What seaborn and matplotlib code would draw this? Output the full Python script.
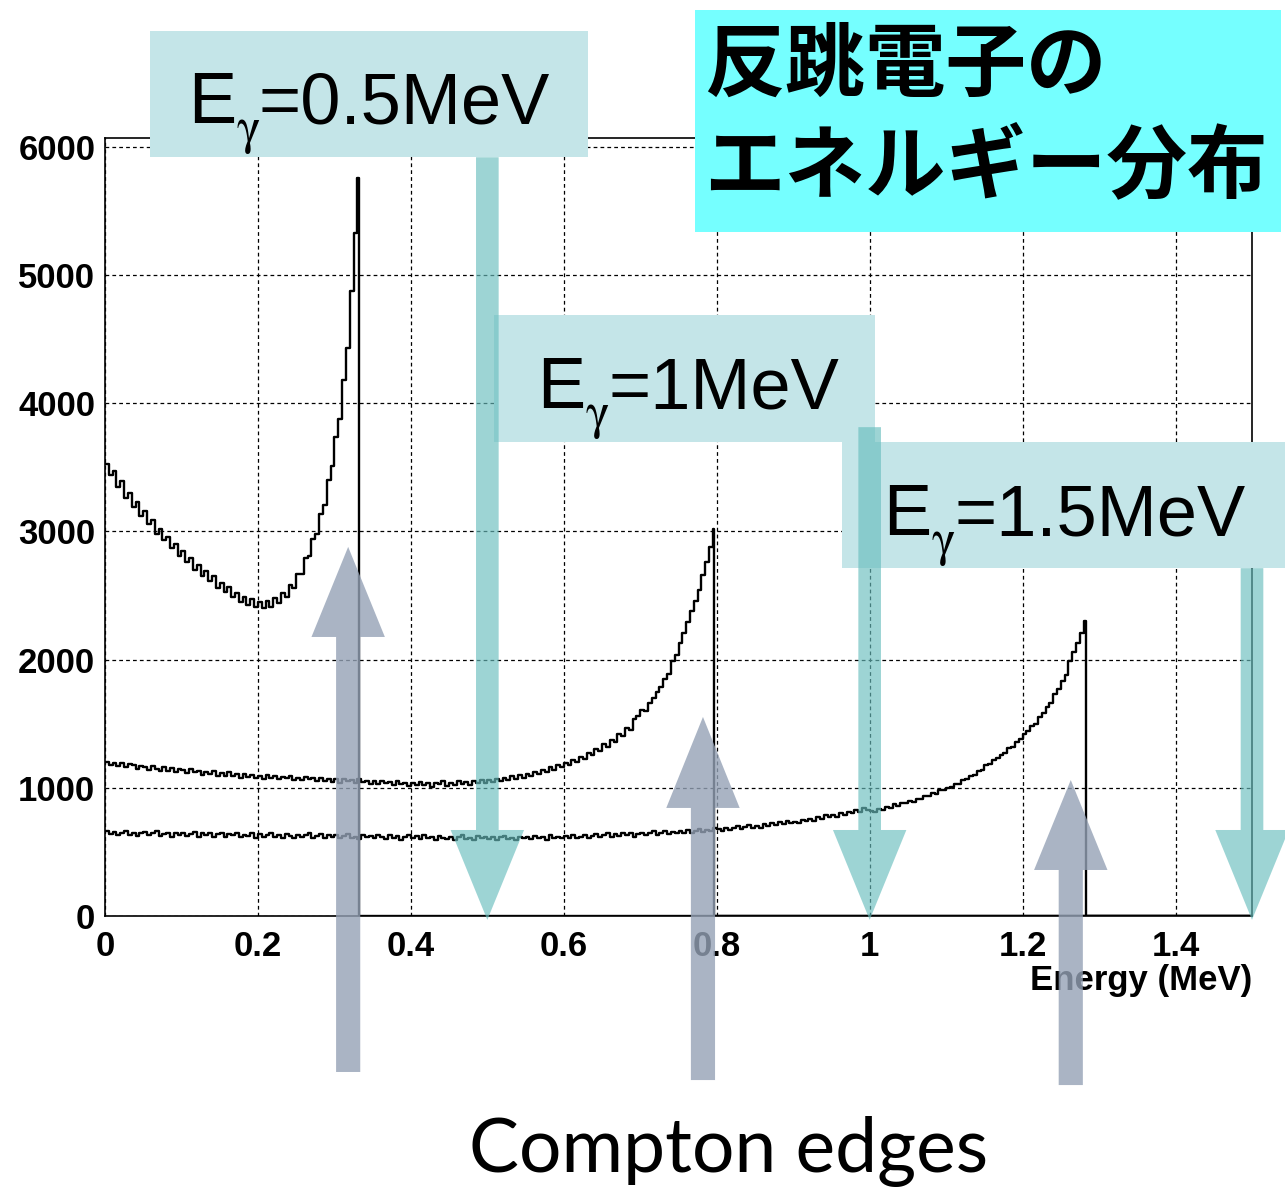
import numpy as np
import pandas as pd
import seaborn as sns
import matplotlib.pyplot as plt
from matplotlib.patches import Polygon, Rectangle
from matplotlib.ticker import MultipleLocator

# histogram bin width (MeV)
bin_w = 0.005

# Compton edge of each spectrum (MeV), where the histogram drops to zero
compton_edges = [0.332, 0.796, 1.283]

# counts per bin, E_gamma = 0.5 MeV
counts_05 = [3530, 3440, 3470, 3350, 3390, 3260, 3300, 3190, 3230, 3120,
             3160, 3060, 3090, 2980, 3020, 2930, 2960, 2870, 2900, 2810,
             2850, 2760, 2790, 2700, 2740, 2650, 2690, 2610, 2650, 2560,
             2600, 2530, 2570, 2490, 2520, 2450, 2490, 2430, 2470, 2410,
             2450, 2400, 2460, 2410, 2480, 2440, 2520, 2490, 2580, 2560,
             2670, 2670, 2790, 2810, 2940, 2980, 3140, 3210, 3400, 3510,
             3740, 3880, 4180, 4430, 4880, 5330, 5760]

# counts per bin, E_gamma = 1 MeV
counts_10 = [1205, 1180, 1195, 1170, 1190, 1160, 1185, 1175, 1150, 1170,
             1165, 1140, 1170, 1150, 1130, 1160, 1135, 1155, 1125, 1145,
             1140, 1115, 1145, 1120, 1130, 1100, 1125, 1110, 1135, 1095,
             1115, 1090, 1120, 1095, 1105, 1080, 1110, 1085, 1100, 1075,
             1095, 1070, 1100, 1080, 1090, 1065, 1085, 1075, 1095, 1060,
             1080, 1060, 1085, 1065, 1075, 1050, 1080, 1055, 1070, 1045,
             1065, 1040, 1070, 1050, 1060, 1035, 1065, 1045, 1055, 1030,
             1050, 1030, 1055, 1035, 1045, 1020, 1050, 1030, 1040, 1015,
             1040, 1020, 1045, 1025, 1035, 1010, 1040, 1030, 1050, 1015,
             1040, 1020, 1050, 1030, 1045, 1025, 1055, 1035, 1060, 1040,
             1060, 1045, 1070, 1050, 1080, 1060, 1090, 1070, 1100, 1080,
             1110, 1090, 1125, 1105, 1140, 1120, 1160, 1140, 1180, 1165,
             1195, 1175, 1215, 1200, 1240, 1225, 1270, 1255, 1305, 1290,
             1340, 1320, 1375, 1360, 1420, 1405, 1470, 1455, 1540, 1560,
             1610, 1600, 1660, 1700, 1750, 1790, 1850, 1890, 1990, 2040,
             2130, 2210, 2290, 2380, 2460, 2540, 2660, 2760, 2880, 3020]

# counts per bin, E_gamma = 1.5 MeV
counts_15 = [660, 640, 655, 630, 650, 665, 635, 645, 625, 650,
             655, 630, 645, 660, 625, 640, 650, 620, 645, 635,
             650, 625, 640, 655, 620, 645, 630, 650, 615, 640,
             645, 620, 640, 630, 650, 615, 635, 625, 645, 610,
             640, 615, 635, 650, 620, 630, 610, 640, 625, 605,
             635, 615, 630, 645, 610, 625, 640, 605, 630, 615,
             630, 605, 625, 640, 610, 620, 600, 635, 615, 625,
             605, 630, 615, 600, 635, 610, 625, 595, 620, 630,
             610, 625, 600, 630, 605, 620, 595, 625, 610, 600,
             620, 595, 615, 630, 600, 610, 590, 625, 605, 615,
             600, 620, 595, 615, 625, 600, 610, 590, 620, 605,
             615, 600, 625, 605, 620, 595, 630, 610, 620, 605,
             625, 610, 630, 605, 620, 635, 610, 625, 640, 615,
             630, 645, 615, 640, 625, 650, 630, 645, 620, 640,
             650, 630, 645, 660, 635, 650, 665, 640, 655, 645,
             660, 645, 670, 650, 665, 680, 655, 670, 660, 685,
             675, 665, 690, 670, 685, 700, 680, 695, 710, 690,
             705, 690, 715, 700, 725, 710, 730, 720, 740, 725,
             735, 725, 750, 740, 760, 745, 770, 760, 785, 775,
             790, 775, 800, 790, 815, 800, 825, 815, 840, 830,
             820, 810, 835, 825, 850, 845, 870, 860, 885, 880,
             895, 890, 915, 910, 935, 935, 960, 955, 985, 980,
             1000, 1005, 1030, 1030, 1060, 1065, 1095, 1100, 1135, 1140,
             1180, 1185, 1220, 1230, 1260, 1275, 1310, 1320, 1360, 1380,
             1420, 1440, 1480, 1500, 1550, 1580, 1630, 1660, 1730, 1770,
             1830, 1880, 1990, 2060, 2130, 2210, 2300]

gamma_energies = [0.5, 1.0, 1.5]
gamma_labels = ["=0.5MeV", "=1MeV", "=1.5MeV"]

x_ticks = [0, 0.2, 0.4, 0.6, 0.8, 1.0, 1.2, 1.4]
x_ticklabels = ["0", "0.2", "0.4", "0.6", "0.8", "1", "1.2", "1.4"]
y_ticks = [0, 1000, 2000, 3000, 4000, 5000, 6000]
y_ticklabels = ["0", "1000", "2000", "3000", "4000", "5000", "6000"]

# annotation arrows (counts / MeV)
teal_top = [5920, 3814, 2714]
edge_arrow_x = [0.318, 0.782, 1.263]
edge_arrow_tip = [2880, 1553, 1061]
edge_arrow_base = [2177, 843, 359]
edge_arrow_bottom = [-1217, -1280, -1319]

sns.set_style("white")
plt.rcParams["font.family"] = ["Liberation Sans", "Noto Sans CJK JP", "DejaVu Sans"]
plt.rcParams["mathtext.fontset"] = "stix"
for k in ["text.color", "axes.labelcolor", "xtick.color", "ytick.color", "axes.edgecolor"]:
    plt.rcParams[k] = "black"

W, H = 1285, 1189
fig = plt.figure(figsize=(W / 100, H / 100), dpi=100)


def fx(px):
    return px / W


def fy(py):
    return 1 - py / H


ax = fig.add_axes([fx(105), fy(916), 1147 / W, 778 / H])

for counts, edge in zip([counts_05, counts_10, counts_15], compton_edges):
    x = list(np.arange(len(counts)) * bin_w) + [edge, 1.5]
    y = list(counts) + [0, 0]
    df = pd.DataFrame({"energy": x, "counts": y})
    sns.lineplot(data=df, x="energy", y="counts", drawstyle="steps-post",
                 color="black", lw=1.7, estimator=None, ax=ax)

ax.set_xlim(0, 1.5)
ax.set_ylim(0, 6070)
ax.set_xticks(x_ticks)
ax.set_xticklabels(x_ticklabels, fontweight="bold", fontsize=25)
ax.set_yticks(y_ticks)
ax.set_yticklabels(y_ticklabels, fontweight="bold", fontsize=25)
ax.xaxis.set_minor_locator(MultipleLocator(0.05))
ax.yaxis.set_minor_locator(MultipleLocator(200))
ax.tick_params(which="both", direction="in", top=False, right=False, color="black")
ax.tick_params(axis="y", which="major", length=26, width=1.2, pad=7)
ax.tick_params(axis="y", which="minor", length=13, width=1.2)
ax.tick_params(axis="x", which="major", length=17, width=1.2, pad=10)
ax.tick_params(axis="x", which="minor", length=8.6, width=1.2)
ax.grid(True, which="major", color="black", linestyle=(0, (3, 2.5)), linewidth=0.9)
for s in ax.spines.values():
    s.set_color("black")
    s.set_linewidth(1.2)
ax.set_ylabel("")
ax.set_xlabel("Energy (MeV)", loc="right", fontweight="bold", fontsize=25, labelpad=1)

# label boxes
boxes = [(150, 31, 588, 157), (494, 315, 875, 442), (842, 442, 1285, 568)]
for (x0, y0, x1, y1) in boxes:
    fig.add_artist(Rectangle((fx(x0), fy(y1)), (x1 - x0) / W, (y1 - y0) / H,
                             transform=fig.transFigure, color="#c4e5e8", lw=0, zorder=3))

# "E", a lowered gamma, then the rest of the label
text_pos = [(188, 123), (537, 408), (883, 535)]
for (px, py), lab in zip(text_pos, gamma_labels):
    fig.text(fx(px), fy(py), "E", fontsize=52, ha="left", va="baseline", zorder=5)
    fig.text(fx(px + 48), fy(py + 20), r"$\mathrm{\gamma}$", fontsize=36,
             ha="left", va="baseline", zorder=5)
    fig.text(fx(px + 71), fy(py), lab, fontsize=52, ha="left", va="baseline", zorder=5)

# title box
fig.add_artist(Rectangle((fx(695), fy(232)), 586 / W, 222 / H, transform=fig.transFigure,
                         color="#75ffff", lw=0, zorder=3))
fig.text(fx(704), fy(66), "反跳電子の", fontsize=58, fontweight="bold",
         family=["Noto Sans CJK JP"], ha="left", va="center", zorder=5)
fig.text(fx(704), fy(168), "エネルギー分布", fontsize=58, fontweight="bold",
         family=["Noto Sans CJK JP"], ha="left", va="center", zorder=5)

# teal arrows pointing at the gamma energies
sh, hh = 0.0148, 0.048
for xe, top in zip(gamma_energies, teal_top):
    pts = [(xe - sh, top), (xe - sh, 671), (xe - hh, 671), (xe, -30),
           (xe + hh, 671), (xe + sh, 671), (xe + sh, top)]
    fig.add_artist(Polygon(pts, closed=True, transform=ax.transData,
                           facecolor=(105 / 255, 190 / 255, 190 / 255), alpha=0.65,
                           lw=0, zorder=4))

# grey arrows pointing at the Compton edges
for xe, tip, base, bot in zip(edge_arrow_x, edge_arrow_tip, edge_arrow_base, edge_arrow_bottom):
    pts = [(xe - sh - 0.001, bot), (xe - sh - 0.001, base), (xe - hh, base), (xe, tip),
           (xe + hh, base), (xe + sh + 0.001, base), (xe + sh + 0.001, bot)]
    fig.add_artist(Polygon(pts, closed=True, transform=ax.transData,
                           facecolor=(149 / 255, 162 / 255, 182 / 255), alpha=0.8,
                           lw=0, zorder=4))

fig.text(fx(729), fy(1172), "Compton edges", fontsize=54, family=["Lato"],
         ha="center", va="baseline", zorder=5)

fig.savefig("out.png", dpi=100)
